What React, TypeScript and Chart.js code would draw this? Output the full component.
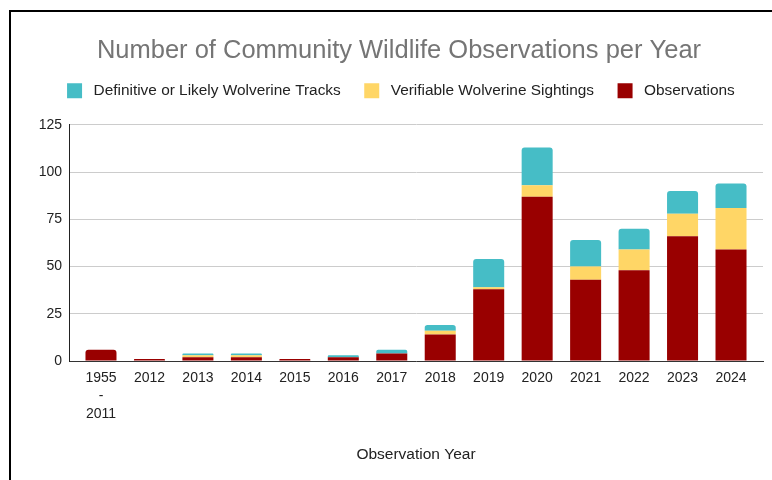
import React, { useEffect, useRef } from 'react';
import { Chart, registerables } from 'chart.js';

Chart.register(...registerables);

const years: (string | string[])[] = [
  ['1955', '-', '2011'], '2012', '2013', '2014', '2015', '2016', '2017',
  '2018', '2019', '2020', '2021', '2022', '2023', '2024',
];
const observations = [6, 1, 2, 2, 1, 2, 4, 14, 38, 87, 43, 48, 66, 59];
const sightings = [0, 0, 1, 1, 0, 0, 0, 2, 1, 6, 7, 11, 12, 22];
const tracks = [0, 0, 1, 1, 0, 1, 2, 3, 15, 20, 14, 11, 12, 13];

const titleText = 'Number of Community Wildlife Observations per Year';
const xTitle = 'Observation Year';

export default function App() {
  const ref = useRef<HTMLCanvasElement>(null);

  useEffect(() => {
    if (!ref.current) return;
    Chart.defaults.font.family = 'Arial, "Liberation Sans", sans-serif';
    const defaultGen = Chart.defaults.plugins.legend.labels.generateLabels;
    const inset = 0.16; // extra space (in categories) at each end of the x axis
    const chart = new Chart(ref.current, {
      type: 'bar',
      data: {
        labels: years as any,
        datasets: [
          { label: 'Observations', data: observations, backgroundColor: '#990000', borderRadius: 3 },
          { label: 'Verifiable Wolverine Sightings', data: sightings, backgroundColor: '#FFD666', borderRadius: 3 },
          { label: 'Definitive or Likely Wolverine Tracks', data: tracks, backgroundColor: '#46BDC6', borderRadius: 3 },
        ],
      },
      options: {
        animation: false,
        responsive: false,
        maintainAspectRatio: false,
        datasets: { bar: { barPercentage: 0.64, categoryPercentage: 1 } },
        layout: { padding: { left: 0, right: 0, top: 0, bottom: 0 } },
        plugins: {
          title: {
            display: true,
            text: titleText,
            color: '#757575',
            font: { size: 25.5, weight: 'normal', lineHeight: 0.7 },
            padding: { top: 42, bottom: 0 },
          },
          legend: {
            reverse: true,
            labels: {
              boxWidth: 22.6,
              boxHeight: 22.6,
              padding: 19.7,
              color: '#222222',
              font: { size: 15.4 },
              generateLabels: (c: any) =>
                defaultGen(c).map((l: any) => ({ ...l, strokeStyle: '#ffffff', lineWidth: 7.6 })),
            },
          },
          tooltip: { enabled: false },
        },
        scales: {
          x: {
            stacked: true,
            grid: { display: false, drawTicks: false },
            border: { display: true, color: '#333333', width: 1 },
            ticks: {
              color: '#222222',
              font: { size: 14, lineHeight: 1.3 },
              padding: 8,
              maxRotation: 0,
              autoSkip: false,
            },
            title: {
              display: true,
              text: xTitle,
              color: '#222222',
              font: { size: 15.5 },
              padding: { top: 0, bottom: 15.7 },
            },
            afterBuildTicks: (s: any) => {
              s._startValue = s.min - 0.5 - inset;
              s._valueRange = s.max - s.min + 1 + 2 * inset;
            },
            afterFit: (s: any) => { s.height = 119; },
          },
          xTop: {
            type: 'category',
            position: 'top',
            display: true,
            grid: { display: false, drawTicks: false },
            border: { display: false },
            ticks: { display: false },
            afterFit: (s: any) => { s.height = 12.7; },
          },
          y: {
            stacked: true,
            min: 0,
            max: 125,
            ticks: { stepSize: 25, padding: 7, color: '#222222', font: { size: 14 } },
            grid: { color: '#cccccc', drawTicks: false },
            border: { display: true, color: '#222222', width: 1 },
            afterFit: (s: any) => { s.width = 69; },
          },
          yRight: {
            type: 'linear',
            position: 'right',
            display: true,
            grid: { display: false, drawTicks: false },
            border: { display: false },
            ticks: { display: false },
            afterFit: (s: any) => { s.width = 35; },
          },
        } as any,
      },
    });
    return () => chart.destroy();
  }, []);

  return (
    <div style={{ position: 'fixed', left: 0, top: 0, width: 772, height: 480, overflow: 'hidden', background: '#ffffff' }}>
      <canvas ref={ref} width={798} height={480} style={{ position: 'absolute', left: 0, top: 0, width: 798, height: 480 }} />
      <div
        style={{
          position: 'absolute',
          left: 9,
          top: 10,
          width: 900,
          height: 600,
          borderLeft: '2px solid #000',
          borderTop: '2px solid #000',
          pointerEvents: 'none',
        }}
      />
    </div>
  );
}
